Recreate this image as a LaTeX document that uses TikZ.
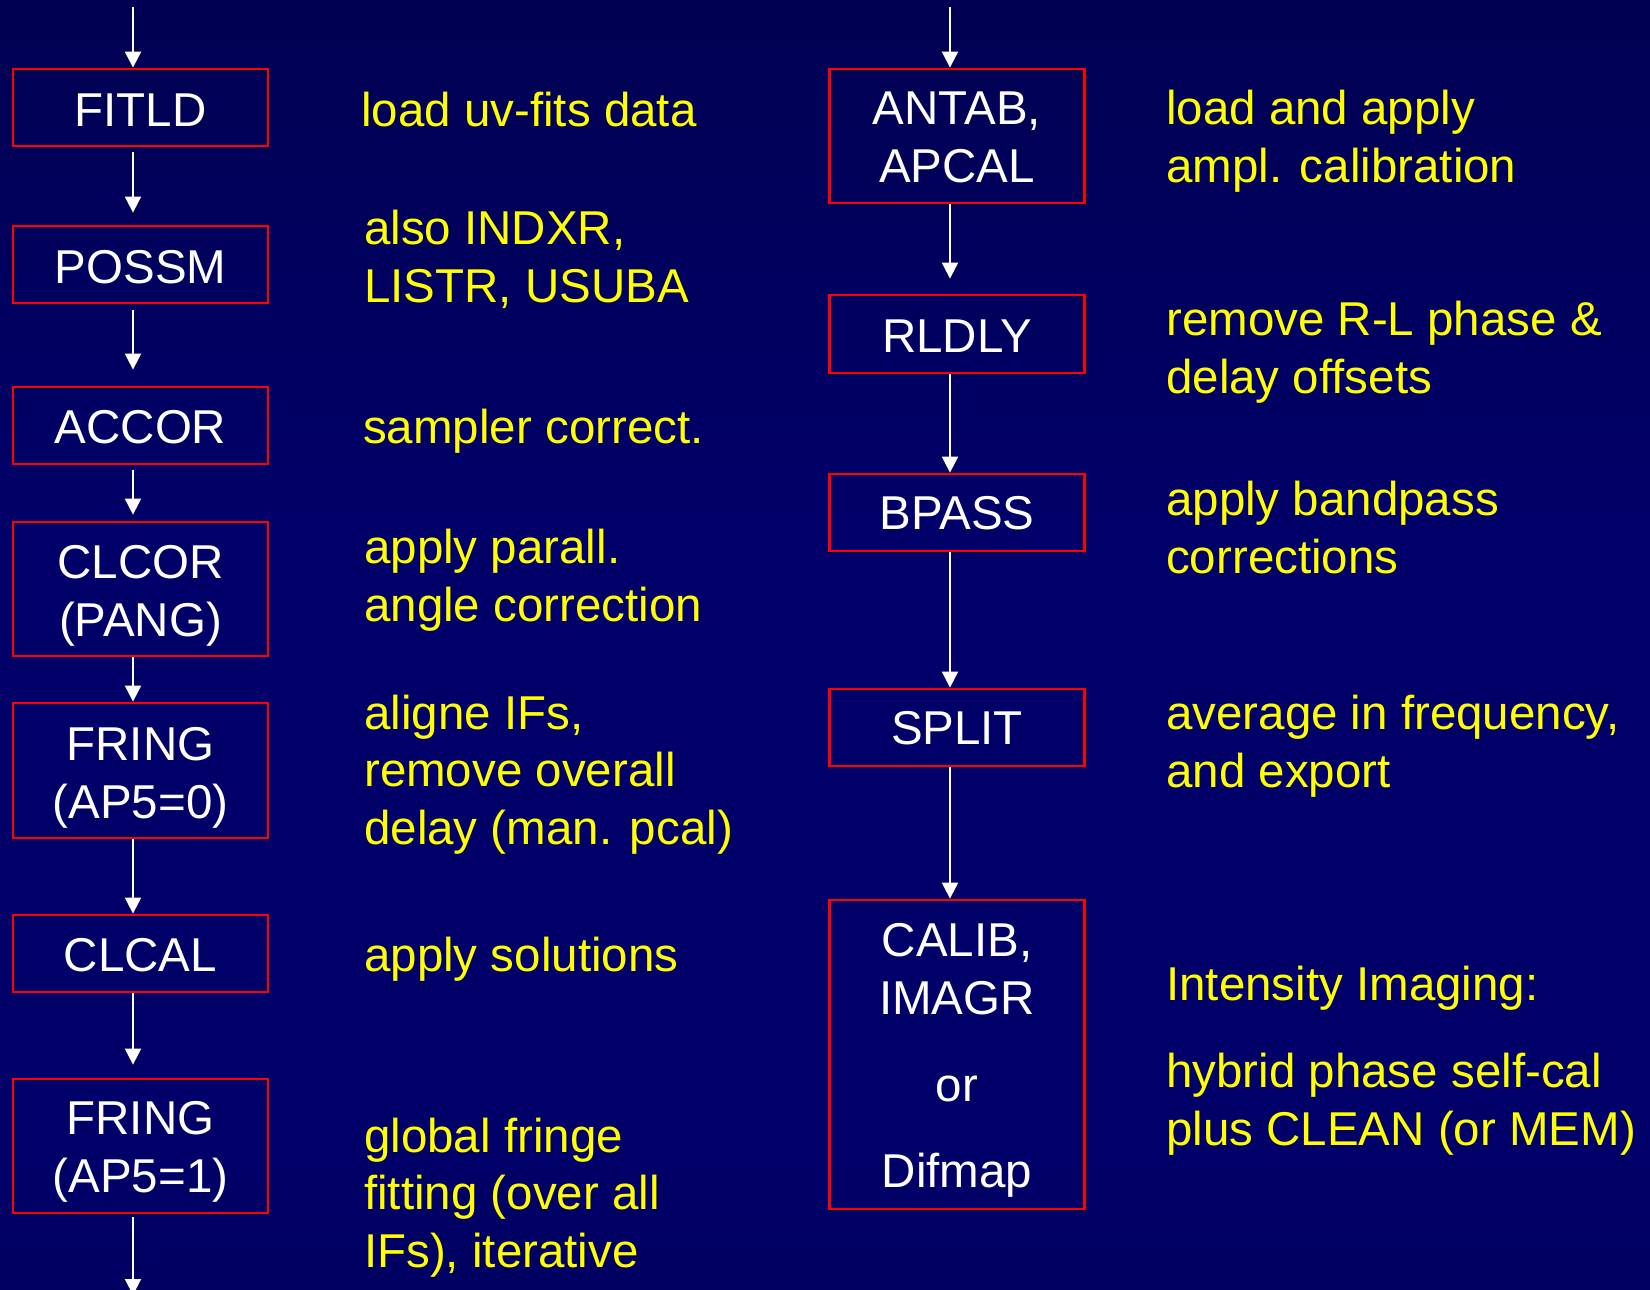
\documentclass[tikz,border=0pt]{standalone}
\usepackage{fontspec}
\setmainfont{Liberation Sans}
\usetikzlibrary{arrows.meta}
\definecolor{bgtop}{RGB}{0,0,54}
\definecolor{bgmid}{RGB}{0,0,104}
\definecolor{bgbot}{RGB}{0,0,64}
\definecolor{boxred}{RGB}{255,0,0}
\definecolor{noteyellow}{RGB}{255,255,0}
\newcommand{\bigfont}{\fontsize{47.5}{57.5}\selectfont}
\pgfdeclareverticalshading{slidebg}{100bp}{%
  color(0bp)=(bgbot); color(30bp)=(bgmid); color(55bp)=(bgmid); color(100bp)=(bgtop)}

\begin{document}
\begin{tikzpicture}[x=1pt,y=-1pt,
  task/.style={draw=boxred, line width=2.8pt, rectangle, inner sep=0pt,
    minimum width=255pt},
  boxtext/.style={text=white, font=\bigfont, align=center, anchor=base, inner sep=0pt},
  note/.style={text=noteyellow, font=\bigfont, align=left, anchor=base west, inner sep=0pt},
  flow/.style={draw=white, line width=2pt, -{Triangle[width=16pt,length=16pt]}}]

% background
\useasboundingbox (0,0) rectangle (1650,1290);
\shade[shading=slidebg] (0,0) rectangle (1650,1290);

% ---- left column boxes ----
\node[task, minimum height=77pt]  (fitld)  at (140.5,107.5) {};
\node[task, minimum height=77pt]  (possm)  at (140.5,264.5) {};
\node[task, minimum height=77pt]  (accor)  at (140.5,425.5) {};
\node[task, minimum height=134pt] (clcor)  at (140.5,589)   {};
\node[task, minimum height=135pt] (fringa) at (140.5,770.5) {};
\node[task, minimum height=77pt]  (clcal)  at (140.5,953.5) {};
\node[task, minimum height=134pt] (fringb) at (140.5,1146)  {};

% box labels (anchored at the baseline of their last line)
\node[boxtext] (fitld-t)  at (140.5,126)  {FITLD};
\node[boxtext] (possm-t)  at (140.5,283)  {POSSM};
\node[boxtext] (accor-t)  at (140.5,443)  {ACCOR};
\node[boxtext] (clcor-t)  at (140.5,636)  {CLCOR\\(PANG)};
\node[boxtext] (fringa-t) at (140.5,818)  {FRING\\(AP5=0)};
\node[boxtext] (clcal-t)  at (140.5,971)  {CLCAL};
\node[boxtext] (fringb-t) at (140.5,1192) {FRING\\(AP5=1)};

% ---- right column boxes ----
\node[task, minimum height=134pt] (antab) at (957,136)    {};
\node[task, minimum height=78pt]  (rldly) at (957,334)    {};
\node[task, minimum height=77pt]  (bpass) at (957,512.5)  {};
\node[task, minimum height=77pt]  (split) at (957,727.5)  {};
\node[task, minimum height=309pt] (calib) at (957,1054.5) {};

\node[boxtext] (antab-t)  at (957,182)  {ANTAB,\\APCAL};
\node[boxtext] (rldly-t)  at (957,352)  {RLDLY};
\node[boxtext] (bpass-t)  at (957,529)  {BPASS};
\node[boxtext] (split-t)  at (957,744)  {SPLIT};
\node[boxtext] (calib-t)  at (957,1014) {CALIB,\\IMAGR};
\node[boxtext] (or-t)     at (957,1101) {or};
\node[boxtext] (difmap-t) at (957,1187) {Difmap};

% ---- notes (anchored at the baseline of their last line) ----
\node[note] (n1) at (361,126)  {load uv-fits data};
\node[note] (n2) at (364,302)  {also INDXR,\\LISTR, USUBA};
\node[note] (n3) at (363,443)  {sampler correct.};
\node[note] (n4) at (364,621)  {apply parall.\\angle correction};
\node[note] (n5) at (364,844)  {aligne IFs,\\remove overall\\delay (man. pcal)};
\node[note] (n6) at (364,971)  {apply solutions};
\node[note] (n7) at (364,1267) {global fringe\\fitting (over all\\IFs), iterative};

\node[note] (m1) at (1166,182)  {load and apply\\ampl. calibration};
\node[note] (m2) at (1166,393)  {remove R-L phase \&\\delay offsets};
\node[note] (m3) at (1166,573)  {apply bandpass\\corrections};
\node[note] (m4) at (1166,787)  {average in frequency,\\and export};
\node[note] (m5) at (1166,1000) {Intensity Imaging:};
\node[note] (m6) at (1166,1145) {hybrid phase self-cal\\plus CLEAN (or MEM)};

% ---- flow arrows, left ----
\coordinate (inL)  at (133,7);
\coordinate (outL) at (133,1295);
\draw[flow] (inL) -- ([xshift=-7.5pt]fitld.north);
\draw[flow, shorten <=5pt, shorten >=12pt] ([xshift=-7.5pt]fitld.south) -- ([xshift=-7.5pt]possm.north);
\draw[flow, shorten <=6pt, shorten >=16pt] ([xshift=-7.5pt]possm.south) -- ([xshift=-7.5pt]accor.north);
\draw[flow, shorten <=5pt, shorten >=6pt]  ([xshift=-7.5pt]accor.south) -- ([xshift=-7.5pt]clcor.north);
\draw[flow] ([xshift=-7.5pt]clcor.south) -- ([xshift=-7.5pt]fringa.north);
\draw[flow] ([xshift=-7.5pt]fringa.south) -- ([xshift=-7.5pt]clcal.north);
\draw[flow, shorten >=13pt] ([xshift=-7.5pt]clcal.south) -- ([xshift=-7.5pt]fringb.north);
\draw[flow, shorten <=3pt] ([xshift=-7.5pt]fringb.south) -- (outL);

% ---- flow arrows, right ----
\coordinate (inR) at (950,7);
\draw[flow] (inR) -- ([xshift=-7pt]antab.north);
\draw[flow, shorten >=15pt] ([xshift=-7pt]antab.south) -- ([xshift=-7pt]rldly.north);
\draw[flow] ([xshift=-7pt]rldly.south) -- ([xshift=-7pt]bpass.north);
\draw[flow] ([xshift=-7pt]bpass.south) -- ([xshift=-7pt]split.north);
\draw[flow] ([xshift=-7pt]split.south) -- ([xshift=-7pt]calib.north);
\end{tikzpicture}
\end{document}
